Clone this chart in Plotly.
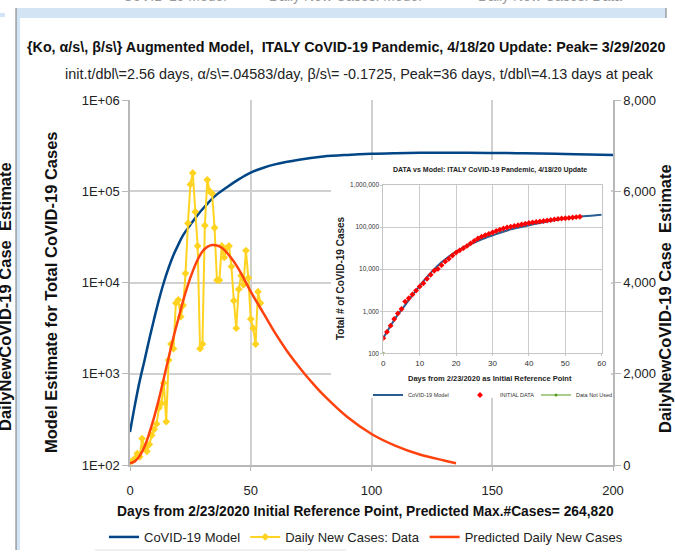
import plotly.graph_objects as go

# ---------------- data ----------------
model_days = [0, 2, 4, 6, 8, 10, 12, 14, 16, 18, 20, 22, 25, 28, 31, 35, 40, 45, 50, 55,
              60, 70, 80, 90, 100, 110, 120, 130, 140, 150, 160, 170, 180, 190, 200]
model_totals = [230, 450, 830, 1400, 2400, 4000, 6500, 10000, 14500, 20000, 26000, 33000,
                43000, 55000, 68000, 88000, 110000, 135000, 160000, 180000, 197000, 222000,
                240000, 250000, 257000, 261000, 263500, 264800, 264500, 263000, 261000,
                259000, 256000, 253000, 250000]

pred_days = [0, 2, 4, 6, 8, 10, 12, 14, 16, 18, 20, 22, 24, 26, 28, 30, 32, 34, 36, 38, 40,
             42, 44, 46, 50, 55, 60, 65, 70, 75, 80, 90, 100, 110, 120, 130, 135]
pred_daily = [40, 80, 200, 400, 700, 1050, 1450, 1900, 2350, 2800, 3200, 3600, 3950, 4250,
              4500, 4680, 4780, 4820, 4810, 4760, 4660, 4530, 4380, 4200, 3800, 3350, 2900,
              2500, 2150, 1830, 1540, 1050, 680, 420, 230, 100, 40]

data_days = list(range(55))
data_daily = [70, 90, 140, 250, 180, 580, 400, 300, 450, 650, 780, 900, 1250, 1350, 1800,
              950, 2300, 2650, 2550, 3550, 3620, 3250, 3500, 4200, 5300, 6150, 6400, 5550,
              4800, 2550, 2650, 5250, 6250, 6000, 5950, 5200, 4050, 4050, 4800, 4550, 4750,
              4800, 4350, 3600, 3000, 3850, 4150, 3950, 4700, 4100, 3200, 3000, 2650, 3800,
              3550]

inset_days = list(range(55))
inset_totals = [229, 322, 453, 655, 888, 1128, 1694, 2036, 2502, 3089, 3858, 4636, 5883, 7375,
                9172, 10149, 12462, 15113, 17660, 21157, 24747, 27980, 31506, 35713, 41035,
                47021, 53578, 59138, 63927, 69176, 74386, 80589, 86498, 92472, 97689, 101739,
                105792, 110574, 115242, 119827, 124632, 128948, 132547, 135586, 139422,
                143626, 147577, 152271, 156363, 159516, 162488, 165155, 168941, 172434,
                175925]
unused_days = [0]
unused_totals = [100]

left_tickvals = [1e2, 1e3, 1e4, 1e5, 1e6]
left_ticktext = ["1E+02", "1E+03", "1E+04", "1E+05", "1E+06"]
inset_ticktext = ["100", "1,000", "10,000", "100,000", "1,000,000"]

TITLE = "{Ko, α/s\\, β/s\\} Augmented Model,  ITALY CoVID-19 Pandemic, 4/18/20 Update: Peak= 3/29/2020"
SUBTITLE = "init.t/dbl\\=2.56 days, α/s\\=.04583/day, β/s\\= -0.1725, Peak=36 days, t/dbl\\=4.13 days at peak"

# ---------------- styling ----------------
NARROW = "Liberation Sans Narrow, Arial Narrow, Liberation Sans, sans-serif"
BLUE = "#004586"
RED = "#ff420e"
YELLOW = "#ffd320"
GRID = "#d0d0d0"

W, H = 675, 557
L, R, T, B = 130, 62, 100, 92
PW, PH = W - L - R, H - T - B


def px(xp):
    return (xp - L) / PW


def py(yp):
    return (H - B - yp) / PH


fig = go.Figure()

# main chart
fig.add_trace(go.Scatter(x=model_days, y=model_totals, name="CoVID-19 Model", mode="lines",
                         line=dict(color=BLUE, width=2.5, shape="spline"),
                         xaxis="x", yaxis="y", legend="legend"))
fig.add_trace(go.Scatter(x=data_days, y=data_daily, name="Daily New Cases: Data",
                         mode="lines+markers",
                         line=dict(color=YELLOW, width=2),
                         marker=dict(symbol="diamond", size=6, color=YELLOW),
                         xaxis="x", yaxis="y2", legend="legend"))
fig.add_trace(go.Scatter(x=pred_days, y=pred_daily, name="Predicted Daily New Cases",
                         mode="lines", line=dict(color=RED, width=2.5, shape="spline"),
                         xaxis="x", yaxis="y2", legend="legend"))

# white backing for the inset (own subplot, drawn above the main one)
fig.add_trace(go.Scatter(x=[0], y=[0], mode="markers", marker=dict(opacity=0),
                         showlegend=False, hoverinfo="skip", xaxis="x3", yaxis="y3"))

# inset chart
inset_model_days = [d for d in model_days if d <= 60]
inset_model_vals = [v for d, v in zip(model_days, model_totals) if d <= 60]
fig.add_trace(go.Scatter(x=inset_model_days, y=inset_model_vals, name="CoVID-19 Model",
                         mode="lines", line=dict(color="#2a5d91", width=2, shape="spline"),
                         xaxis="x4", yaxis="y4", legend="legend2"))
fig.add_trace(go.Scatter(x=inset_days, y=inset_totals, name="INITIAL DATA", mode="markers",
                         marker=dict(symbol="diamond", size=4.5, color="#ff0000"),
                         xaxis="x4", yaxis="y4", legend="legend3"))
fig.add_trace(go.Scatter(x=unused_days, y=unused_totals, name="Data Not Used",
                         mode="lines+markers", line=dict(color="#579d1c", width=1),
                         marker=dict(size=3, color="#579d1c"),
                         xaxis="x4", yaxis="y4", legend="legend4"))

axis_font = dict(family=NARROW, size=13, color="#222")
inset_font = dict(family=NARROW, size=6.5, color="#333")
inset_leg_font = dict(family=NARROW, size=5.5, color="#333")

# box behind inset (in px)
bx0, bx1, by0, by1 = 331, 611, 160, 398
ix0, ix1, iy0, iy1 = 383.3, 601.7, 185, 353.3


def inset_legend(x_left):
    return dict(orientation="h", x=px(x_left), y=py(395), xanchor="left", yanchor="middle",
                font=inset_leg_font, bgcolor="rgba(0,0,0,0)", itemwidth=30)


fig.update_layout(
    width=W, height=H,
    margin=dict(l=L, r=R, t=T, b=B, autoexpand=False),
    paper_bgcolor="white", plot_bgcolor="white",
    font=dict(family=NARROW, color="#222"),
    xaxis=dict(domain=[0, 1], range=[0, 200], tickvals=[0, 50, 100, 150, 200],
               showgrid=True, gridcolor=GRID, gridwidth=1.5, zeroline=False,
               showline=True, linecolor="#b8b8b8", linewidth=1.5,
               ticks="outside", ticklen=4, tickcolor="#b8b8b8", ticklabelstandoff=9,
               tickfont=axis_font, anchor="y"),
    yaxis=dict(domain=[0, 1], type="log", range=[2, 6], tickvals=left_tickvals,
               ticktext=left_ticktext, showgrid=True, gridcolor=GRID, gridwidth=1.5,
               zeroline=False, showline=True, linecolor="#b8b8b8", linewidth=1.5,
               ticks="outside", ticklen=6, tickcolor="#b8b8b8", tickfont=axis_font,
               anchor="x"),
    yaxis2=dict(overlaying="y", side="right", range=[0, 8000], tickvals=[0, 2000, 4000, 6000, 8000],
                tickformat=",d", showgrid=False, zeroline=False, showline=True,
                linecolor="#b8b8b8", linewidth=1.5, ticks="outside", ticklen=6,
                tickcolor="#b8b8b8", tickfont=axis_font, anchor="x"),
    xaxis3=dict(domain=[px(bx0), px(bx1)], range=[0, 1], visible=False, anchor="y3"),
    yaxis3=dict(domain=[py(by1), py(by0)], range=[1, 2], visible=False, anchor="x3"),
    xaxis4=dict(domain=[px(ix0), px(ix1)], range=[0, 60], dtick=10, anchor="y4",
                showgrid=True, gridcolor="#cccccc", gridwidth=1, zeroline=False,
                showline=True, linecolor="#c4c4c4", mirror=True,
                ticks="outside", ticklen=2, tickcolor="#c4c4c4",
                tickfont=dict(family=NARROW, size=8, color="#333")),
    yaxis4=dict(domain=[py(iy1), py(iy0)], type="log", range=[2, 6], anchor="x4",
                tickvals=left_tickvals, ticktext=inset_ticktext,
                showgrid=True, gridcolor="#cccccc", gridwidth=1, zeroline=False,
                showline=True, linecolor="#c4c4c4", mirror=True,
                ticks="outside", ticklen=2, tickcolor="#c4c4c4", tickfont=inset_font),
    legend=dict(orientation="h", x=px(104), y=py(537), xanchor="left", yanchor="middle",
                font=dict(family=NARROW, size=13, color="#222"), bgcolor="rgba(0,0,0,0)",
                itemwidth=30, tracegroupgap=0),
    legend2=inset_legend(368),
    legend3=inset_legend(460),
    legend4=inset_legend(536),
    showlegend=True,
)

ann = []
ann.append(dict(text="<b>" + TITLE + "</b>", x=px(346), y=py(47), xref="paper", yref="paper",
                showarrow=False, font=dict(family=NARROW, size=14.3, color="#111"),
                xanchor="center", yanchor="middle"))
ann.append(dict(text=SUBTITLE, x=px(359), y=py(74), xref="paper", yref="paper",
                showarrow=False, font=dict(family=NARROW, size=14.4, color="#222"),
                xanchor="center", yanchor="middle"))
ann.append(dict(text="<b>Days from 2/23/2020 Initial Reference Point, Predicted Max.#Cases= 264,820</b>",
                x=px(365), y=py(511), xref="paper", yref="paper", showarrow=False,
                font=dict(family=NARROW, size=13.8, color="#111"), xanchor="center", yanchor="middle"))
ann.append(dict(text="<b>Model Estimate for Total CoVID-19 Cases</b>", x=px(51), y=py(292),
                xref="paper", yref="paper", showarrow=False, textangle=-90,
                font=dict(family=NARROW, size=16.5, color="#111"), xanchor="center", yanchor="middle"))
ann.append(dict(text="<b>DailyNewCoVID-19 Case  Estimate</b>", x=px(665), y=py(299),
                xref="paper", yref="paper", showarrow=False, textangle=-90,
                font=dict(family=NARROW, size=16.5, color="#111"), xanchor="center", yanchor="middle"))
# background spreadsheet remnants
ann.append(dict(text="<b>DailyNewCoVID-19 Case  Estimate</b>", x=px(5), y=py(297),
                xref="paper", yref="paper", showarrow=False, textangle=-90,
                font=dict(family=NARROW, size=16.5, color="#111"), xanchor="center", yanchor="middle"))
for txt, cx in [("CoVID-19 Model", 175), ("Daily New Cases: Model", 345), ("Daily New Cases: Data", 550)]:
    ann.append(dict(text=txt, x=px(cx), y=py(-4), xref="paper", yref="paper", showarrow=False,
                    font=dict(family=NARROW, size=14, color="#999"), xanchor="center",
                    yanchor="middle"))
# inset titles
ann.append(dict(text="<b>DATA vs Model: ITALY CoVID-19 Pandemic, 4/18/20 Update</b>",
                x=px(490), y=py(170), xref="paper", yref="paper", showarrow=False,
                font=dict(family=NARROW, size=7, color="#222"), xanchor="center", yanchor="middle"))
ann.append(dict(text="<b>Days from 2/23/2020 as Initial Reference Point</b>",
                x=px(490), y=py(378), xref="paper", yref="paper", showarrow=False,
                font=dict(family=NARROW, size=7.5, color="#222"), xanchor="center", yanchor="middle"))
ann.append(dict(text="<b>Total # of CoVID-19 Cases</b>", x=px(340), y=py(278),
                xref="paper", yref="paper", showarrow=False, textangle=-90,
                font=dict(family=NARROW, size=10, color="#222"), xanchor="center", yanchor="middle"))
fig.update_layout(annotations=ann)

shapes = [
    dict(type="rect", xref="paper", yref="paper", x0=px(16), x1=px(666), y0=py(18), y1=py(8),
         fillcolor="#d3e5f4", line=dict(width=0), layer="below"),
    dict(type="rect", xref="paper", yref="paper", x0=px(16), x1=px(20), y0=py(550), y1=py(18),
         fillcolor="#d3e5f4", line=dict(width=0), layer="below"),
    dict(type="line", xref="paper", yref="paper", x0=px(16), x1=px(16), y0=py(550), y1=py(8),
         line=dict(color="#777", width=1), layer="below"),
    dict(type="line", xref="paper", yref="paper", x0=px(666), x1=px(666), y0=py(18), y1=py(8),
         line=dict(color="#777", width=1), layer="below"),
    dict(type="line", xref="paper", yref="paper", x0=px(95), x1=px(346), y0=py(550), y1=py(550),
         line=dict(color="#e2e2e2", width=1), layer="below"),
    dict(type="rect", xref="paper", yref="paper", x0=px(0), x1=px(5), y0=py(17), y1=py(13),
         fillcolor="#d3e5f4", line=dict(width=0), layer="below"),
]
fig.update_layout(shapes=shapes)

# no mode bar, and no default 8px page margin, so the figure sits at the window's corner
fig.write_html("out.html", config={"displayModeBar": False},
               post_script="document.body.style.margin='0px';")
